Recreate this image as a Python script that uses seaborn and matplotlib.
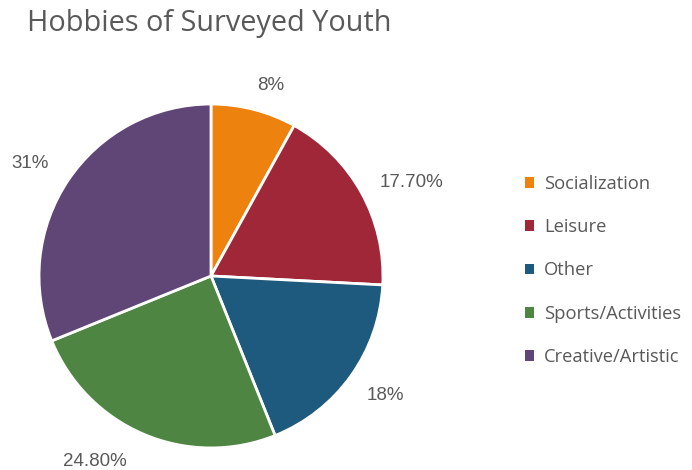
import matplotlib
matplotlib.use("Agg")
import matplotlib.pyplot as plt
import seaborn as sns
import numpy as np

sns.set_theme(style="white")
plt.rcParams["font.family"] = ["Open Sans", "DejaVu Sans"]

# Survey shares (percent) and their printed labels
categories = ["Socialization", "Leisure", "Other", "Sports/Activities", "Creative/Artistic"]
shares = [8.0, 17.7, 18.0, 24.8, 31.0]
share_labels = ["8%", "17.70%", "18%", "24.80%", "31%"]
colors = ["#EE820F", "#A02737", "#1D5A7D", "#4E8542", "#604677"]

# Label placement around the rim: distance (in radii) and angular nudge (deg)
label_dist = [1.16, 1.29, 1.23, 1.27, 1.24]
label_nudge = [-3, -4, 1, -9, 2]

fig = plt.figure(figsize=(6.92, 4.70), dpi=100)
ax = fig.add_axes([0.0564, 0.0468, 0.497, 0.732])

wedges, _ = ax.pie(
    shares,
    colors=colors,
    startangle=90,
    counterclock=False,
    wedgeprops=dict(edgecolor="white", linewidth=2.0),
)
ax.set_xlim(-1, 1)
ax.set_ylim(-1, 1)
ax.set_aspect("equal")

for w, lab, d, nud in zip(wedges, share_labels, label_dist, label_nudge):
    mid = np.deg2rad((w.theta1 + w.theta2) / 2 + nud)
    ax.text(d * np.cos(mid), d * np.sin(mid), lab, ha="center", va="center",
            fontsize=13.5, color="#595959", family="Liberation Sans", clip_on=False)

fig.text(0.039, 0.951, "Hobbies of Surveyed Youth", fontsize=20.8, color="#595959",
         ha="left", va="center")

leg = fig.legend(
    wedges, categories,
    loc="center left", bbox_to_anchor=(0.745, 0.4245),
    frameon=False, fontsize=13.2, labelcolor="#595959",
    handlelength=0.5, handleheight=0.5, handletextpad=0.55,
    labelspacing=1.38, borderpad=0,
)
for h in leg.legend_handles:
    h.set_linewidth(0)

fig.savefig("out.png", dpi=100, facecolor="white")
